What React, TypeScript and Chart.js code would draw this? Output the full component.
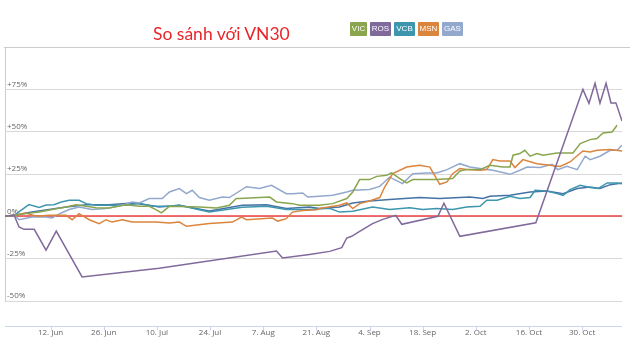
import React, { useEffect, useRef } from "react";
import { Chart, registerables } from "chart.js";

Chart.register(...registerables);

// x = days since 31 May, y = % change
type P = [number, number];

const TICK_DAYS = [12, 26, 40, 54, 68, 82, 96, 110, 124, 138, 152];
const TICK_LABELS = ["12. Jun", "26. Jun", "10. Jul", "24. Jul", "7. Aug", "21. Aug", "4. Sep", "18. Sep", "2. Oct", "16. Oct", "30. Oct"];
const Y_TICKS = [-50, -25, 0, 25, 50, 75];

const VIC: P[] = [[0,0],[2.4,0.6],[5.5,1.6],[9,2.5],[12.4,4],[16.1,5.5],[18.7,6.9],[21.4,5.9],[24,5.1],[27.4,4.9],[31.9,6.9],[35.4,5.9],[38,5.9],[40.1,3.5],[41.2,2],[43.3,5.9],[51.2,5.5],[55.7,4.9],[59.1,6.5],[60.9,10.5],[61.7,10.5],[69.7,11.4],[71.5,8.5],[75.7,7.5],[77.6,6.5],[82.8,6.5],[86.3,7.5],[90,10.5],[91.6,14.4],[93.4,21.7],[96,21.7],[97.9,23.6],[100.5,24.2],[101.8,25.6],[104,22.3],[105.8,19.7],[107.4,21.7],[113.7,21.7],[117.9,22.3],[119.8,26.8],[121.6,27.6],[125.1,27.6],[127.7,30.1],[131.1,29.1],[133,29.1],[133.8,36.1],[135.6,37.1],[136.9,39],[138.3,35.5],[140.1,37.1],[141.7,36.1],[145.4,37.4],[149.6,37.4],[151.5,43],[154.1,45.3],[155.9,45.9],[157.5,49.2],[159.9,49.8],[161.2,53.8]];

const ROS: P[] = [[0,0],[2.4,0.6],[3.7,-6.3],[5,-7.7],[7.7,-7.7],[10.8,-20],[13.5,-8.7],[20.3,-35.8],[40.6,-30.6],[71.5,-20.5],[73.1,-24.6],[80.2,-22.5],[85.5,-20.7],[88.7,-18.5],[90,-12.8],[91.3,-11.8],[93.4,-8.9],[96.8,-4.3],[99.5,-1.8],[102.9,0.6],[104.5,-4.7],[114,0],[115.6,7.7],[119.8,-11.8],[139.8,-3.8],[152.2,75],[153.8,66.8],[155.4,78.6],[156.7,66.8],[158.3,78.6],[159.6,67],[160.9,67],[162.5,56.3]];

const VCB: P[] = [[0,0],[2.4,0.6],[6.3,6.9],[9,5.3],[10.8,6.7],[12.9,6.9],[14.8,8.5],[16.9,9.5],[19.5,9.5],[21.4,7.5],[24,6.5],[27.4,6.5],[31.9,6.5],[35.4,7.7],[38.8,5.9],[43.3,5.9],[45.9,6.5],[53.8,2.5],[62.5,5.3],[68.9,5.9],[74.1,4],[80.2,4],[85.5,4.7],[88.1,2.5],[91.6,3],[96.8,5.5],[101.3,4],[106.6,5.1],[110,4],[113.7,4.6],[117.9,4],[121.6,5.5],[125.1,5.9],[126.9,9.5],[129.6,9.5],[133,11.8],[135.6,10.5],[138.3,11.1],[139.6,15.4],[142.7,15],[145.4,13.4],[147,12.4],[148.8,15.8],[151.5,18.3],[154.1,17],[156.2,16.4],[158.6,19.7],[161.2,19.7],[162.5,19.3]];

const MSN: P[] = [[0,0],[2.4,0.6],[5.5,2],[8.2,0],[11.6,0.6],[14.2,0.6],[16.1,0.6],[17.7,-2],[19.5,1.6],[22.2,-2],[24.8,-4.3],[26.6,-2],[28.2,-3.4],[30.9,-2],[33.5,-3.4],[37.2,-3.4],[39.8,-3.4],[43.3,-4],[45.9,-3.4],[47.8,-5.9],[53.8,-4.3],[59.9,-3.4],[62.3,-0.4],[63.6,-2],[70.4,-1],[71.8,-2.8],[74.1,-1.4],[75.7,2.5],[78.4,3.5],[82.1,3.9],[82.8,4.6],[88.1,6.5],[90,7.9],[91.6,4.6],[93.4,7.5],[96,9.1],[98.7,11.1],[100,17.3],[102.1,25.2],[105.8,29.1],[109.2,30.1],[111.9,29.1],[114.5,18.9],[116.4,20.3],[117.9,25.2],[119.8,28.2],[121.6,27.6],[125.1,27.2],[126.9,27.6],[128.5,33.5],[130.3,32.7],[133,32.7],[134.3,28.8],[136.4,33.5],[140.1,31.1],[143.5,30.1],[146.2,29.5],[148.8,32.1],[152.2,38.6],[154.1,38],[155.9,39],[159.4,39.4],[162.5,38.6]];

const GAS: P[] = [[0,0],[2.4,0.6],[3.7,-2],[7.1,-0.4],[10.8,-0.4],[12.4,-1],[14.8,2],[16.9,4],[19.5,5.5],[22.9,4],[26.6,4.6],[30.9,6.5],[33.5,8.5],[35.4,7.9],[38,10.5],[41.4,10.5],[43.3,14.4],[45.9,16.4],[47.8,13.4],[49.3,15.4],[51.2,11.1],[53.8,9.5],[57.3,11.4],[59.1,11.1],[63.6,17.5],[67,16.4],[70.2,18.3],[74.1,13.4],[75.7,13.4],[78.4,13.8],[79.7,11.4],[82.8,11.8],[86.3,12.4],[90,14.4],[91.6,15.4],[96,15.8],[98.7,17.7],[101.3,23.2],[104.7,19.3],[107.4,25.2],[111.1,25.6],[113.7,25.6],[116.4,27.6],[119.8,31.1],[122.4,29.1],[125.1,28.2],[128.5,27.2],[133,24.8],[135.6,27.2],[137.5,29.1],[140.9,28.8],[144.1,30.7],[145.6,27.6],[148,29.5],[150.7,27.6],[152.8,35.5],[154.1,33.5],[156.7,35.5],[159.4,39],[161.2,39],[162.5,42]];

const VN30: P[] = [[0,0],[2.4,0.6],[7.1,2.5],[11.6,4],[16.1,5.5],[21.4,6.9],[27.4,6.9],[33.5,7.9],[38,6.5],[40.6,5.5],[45.9,6.5],[53.8,3.1],[62.5,6.5],[68.9,6.9],[74.1,4.6],[80.2,5.5],[82.8,4.6],[88.1,5.5],[91.6,7.9],[96,9.1],[101.3,9.9],[109.2,11.1],[114.5,10.5],[122.4,11.4],[125.9,10.5],[127.7,11.8],[133,12.4],[138.3,14.4],[142.7,15],[147,13.4],[150.7,16.4],[154.1,17.3],[156.7,16.4],[159.4,18.7],[162.5,19.7]];

const LEGEND_NAMES = ["VIC", "ROS", "VCB", "MSN", "GAS"];
const LEGEND_COLORS = ["#89a54e", "#80699b", "#3d96ae", "#db843d", "#92a8cd"];
const LEGEND_WIDTHS = [17, 21, 21, 21, 21];

const toXY = (arr: P[]) => arr.map(([x, y]) => ({ x, y }));

const framePlugin = {
  id: "frame",
  beforeDatasetsDraw(chart: any) {
    const { ctx, chartArea, scales } = chart;
    const y0 = Math.round(scales.y.getPixelForValue(0));
    ctx.save();
    ctx.strokeStyle = "#ee4040";
    ctx.lineWidth = 1.5;
    ctx.beginPath();
    ctx.moveTo(chartArea.left, y0);
    ctx.lineTo(chartArea.right, y0);
    ctx.stroke();
    ctx.restore();
  },
  afterDraw(chart: any) {
    const { ctx, chartArea, scales, width } = chart;
    ctx.save();
    ctx.lineWidth = 1;
    ctx.strokeStyle = "#cccccc";
    const top = Math.round(chartArea.top) + 0.5;
    ctx.beginPath();
    ctx.moveTo(chartArea.left - 1, top);
    ctx.lineTo(width, top);
    ctx.stroke();
    const axisY = Math.round(chartArea.bottom + 25) + 0.5;
    ctx.strokeStyle = "#ccd6eb";
    ctx.beginPath();
    ctx.moveTo(chartArea.left, axisY);
    ctx.lineTo(chartArea.right, axisY);
    ctx.stroke();
    ctx.beginPath();
    TICK_DAYS.forEach((d) => {
      const x = Math.round(scales.x.getPixelForValue(d)) + 0.5;
      ctx.moveTo(x, axisY);
      ctx.lineTo(x, axisY + 4);
    });
    ctx.stroke();
    ctx.restore();
  },
};

export default function App() {
  const ref = useRef<HTMLCanvasElement>(null);

  useEffect(() => {
    const ds = (label: string, data: P[], color: string) => ({
      label,
      data: toXY(data),
      borderColor: color,
      backgroundColor: color,
      borderWidth: 1.5,
      pointRadius: 0,
      tension: 0,
      fill: false,
    });
    const chart = new Chart(ref.current as HTMLCanvasElement, {
      type: "line",
      data: {
        datasets: [
          ds("ROS", ROS, LEGEND_COLORS[1]),
          ds("VIC", VIC, LEGEND_COLORS[0]),
          ds("MSN", MSN, LEGEND_COLORS[3]),
          ds("GAS", GAS, LEGEND_COLORS[4]),
          ds("VCB", VCB, LEGEND_COLORS[2]),
          ds("VN30", VN30, "#4572a7"),
        ],
      },
      options: {
        animation: false,
        responsive: false,
        devicePixelRatio: 1,
        layout: { padding: { left: 5, right: 8, top: 47, bottom: 0 } },
        plugins: {
          legend: { display: false },
          tooltip: { enabled: false },
          title: { display: false },
        },
        scales: {
          x: {
            type: "linear",
            min: 0,
            max: 162.5,
            afterBuildTicks: (s: any) => {
              s.ticks = TICK_DAYS.map((value) => ({ value }));
            },
            ticks: {
              autoSkip: false,
              maxRotation: 0,
              padding: 27,
              color: "#666666",
              font: { family: "'Open Sans', sans-serif", size: 8 },
              callback: (_v: any, i: number) => TICK_LABELS[i] ?? "",
            },
            grid: { display: false, drawTicks: false },
            border: { display: false },
            afterFit: (s: any) => {
              s.height = 53;
            },
          },
          y: {
            type: "linear",
            min: -50,
            max: 100,
            afterBuildTicks: (s: any) => {
              s.ticks = Y_TICKS.map((value) => ({ value }));
            },
            ticks: {
              mirror: true,
              padding: 2,
              labelOffset: -5,
              color: "#666666",
              font: { family: "'Open Sans', sans-serif", size: 8 },
              callback: (v: any) => (v > 0 ? "+" + v + "%" : v + "%"),
            },
            grid: { color: "#d8d8d8", drawTicks: false, lineWidth: 1 },
            border: { color: "#c0d0e0" },
            afterFit: (s: any) => {
              s.width = 0;
            },
          },
        },
      },
      plugins: [framePlugin],
    } as any);
    return () => chart.destroy();
  }, []);

  return (
    <div style={{ position: "fixed", left: 0, top: 0, width: 630, height: 354, background: "#ffffff", overflow: "hidden" }}>
      <canvas ref={ref} width={630} height={354} style={{ position: "absolute", left: 0, top: 0, width: 630, height: 354 }} />
      <div
        style={{
          position: "absolute",
          left: 153,
          top: 23,
          fontFamily: "Lato, 'Open Sans', sans-serif",
          fontSize: 17.5,
          lineHeight: "21px",
          color: "#e8262a",
          whiteSpace: "nowrap",
        }}
      >
        So sánh với VN30
      </div>
      <div style={{ position: "absolute", left: 350, top: 22, display: "flex", gap: 3 }}>
        {LEGEND_NAMES.map((n, i) => (
          <div
            key={n}
            style={{
              width: LEGEND_WIDTHS[i],
              height: 14,
              lineHeight: "14px",
              background: LEGEND_COLORS[i],
              color: "#ffffff",
              fontFamily: "'Liberation Sans', Arial, sans-serif",
              fontSize: 8,
              textAlign: "center",
              borderRadius: 1,
            }}
          >
            {n}
          </div>
        ))}
      </div>
    </div>
  );
}
